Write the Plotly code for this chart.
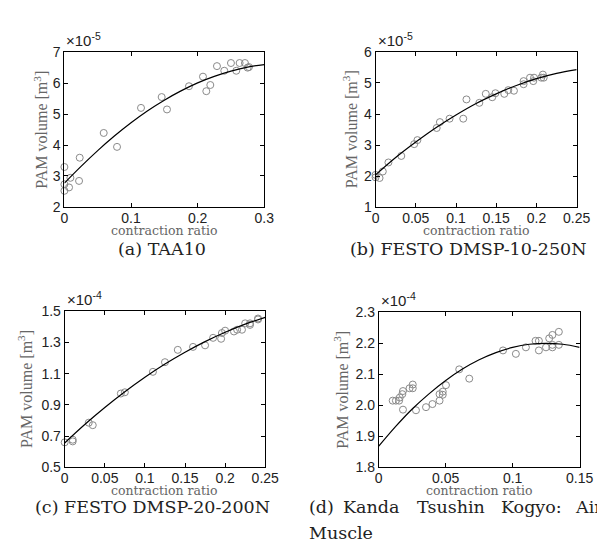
import plotly.graph_objects as go

W, H = 605, 543

# ---------------- data (mantissas; exponent shown in corner label) -------------
# (a) TAA10  (x1e-5 m^3)
a_x = [0, 0, 0, 0.007, 0.009, 0.022, 0.023, 0.059, 0.079, 0.115, 0.146, 0.154,
       0.187, 0.208, 0.213, 0.219, 0.229, 0.240, 0.250, 0.258, 0.263, 0.271, 0.275, 0.277]
a_y = [3.29, 2.73, 2.52, 2.63, 2.94, 2.84, 3.59, 4.39, 3.94, 5.20, 5.55, 5.15,
       5.90, 6.21, 5.74, 5.94, 6.55, 6.40, 6.65, 6.40, 6.65, 6.65, 6.50, 6.52]
a_fx = [0, 0.025, 0.05, 0.075, 0.1, 0.125, 0.15, 0.175, 0.2, 0.225, 0.25, 0.275, 0.3]
a_fy = [2.77, 3.31, 3.82, 4.29, 4.72, 5.11, 5.45, 5.75, 6.01, 6.22, 6.39, 6.52, 6.60]

# (b) FESTO DMSP-10-250N  (x1e-5 m^3)
b_x = [0, 0, 0.005, 0.009, 0.016, 0.032, 0.048, 0.052, 0.076, 0.080, 0.092, 0.109,
       0.113, 0.129, 0.137, 0.145, 0.149, 0.160, 0.165, 0.172, 0.184, 0.184, 0.192,
       0.196, 0.197, 0.206, 0.208, 0.209]
b_y = [2.04, 1.96, 1.94, 2.15, 2.44, 2.65, 3.03, 3.16, 3.55, 3.74, 3.85, 3.85,
       4.47, 4.36, 4.65, 4.54, 4.67, 4.65, 4.77, 4.75, 4.96, 5.06, 5.17,
       5.06, 5.17, 5.17, 5.27, 5.17]
b_fx = [0, 0.025, 0.05, 0.075, 0.1, 0.125, 0.15, 0.175, 0.2, 0.225, 0.25]
b_fy = [2.04, 2.60, 3.10, 3.56, 3.97, 4.34, 4.65, 4.92, 5.14, 5.31, 5.43]

# (c) FESTO DMSP-20-200N  (x1e-4 m^3)
c_x = [0, 0.010, 0.010, 0.030, 0.035, 0.070, 0.075, 0.110, 0.125, 0.141, 0.160,
       0.175, 0.185, 0.195, 0.196, 0.200, 0.211, 0.215, 0.221, 0.225, 0.231, 0.231,
       0.241, 0.241]
c_y = [0.660, 0.677, 0.666, 0.786, 0.770, 0.973, 0.981, 1.112, 1.174, 1.253, 1.272,
       1.282, 1.330, 1.324, 1.361, 1.376, 1.371, 1.382, 1.382, 1.423, 1.423, 1.413,
       1.454, 1.448]
c_fx = [0, 0.025, 0.05, 0.075, 0.1, 0.125, 0.15, 0.175, 0.2, 0.225, 0.25]
c_fy = [0.656, 0.774, 0.883, 0.984, 1.077, 1.162, 1.238, 1.306, 1.366, 1.418, 1.461]

# (d) Kanda Tsushin Kogyo: Air Muscle  (x1e-4 m^3)
d_x = [0.0104, 0.0128, 0.0152, 0.0157, 0.0176, 0.0181, 0.0181, 0.0230, 0.0254,
       0.0254, 0.0278, 0.0353, 0.0401, 0.0454, 0.0454, 0.0478, 0.0478, 0.0502,
       0.0601, 0.0676, 0.0928, 0.1024, 0.1099, 0.1171, 0.1196, 0.1196, 0.1249,
       0.1273, 0.1297, 0.1297, 0.1297, 0.1345, 0.1345]
d_y = [2.015, 2.015, 2.015, 2.025, 2.036, 2.046, 1.986, 2.055, 2.055, 2.067, 1.984,
       1.994, 2.004, 2.015, 2.036, 2.044, 2.034, 2.065, 2.116, 2.086, 2.177, 2.166,
       2.187, 2.208, 2.208, 2.177, 2.187, 2.216, 2.227, 2.195, 2.187, 2.237, 2.195]
d_fx = [0, 0.0125, 0.025, 0.0375, 0.05, 0.0625, 0.075, 0.0875, 0.1, 0.1125, 0.125, 0.1375, 0.15]
d_fy = [1.868, 1.931, 1.988, 2.037, 2.080, 2.117, 2.147, 2.170, 2.187, 2.197, 2.200, 2.197, 2.187]

# tick labels
a_xt = [0, 0.1, 0.2, 0.3];            a_xl = ["0", "0.1", "0.2", "0.3"]
a_yt = [2, 3, 4, 5, 6, 7];            a_yl = ["2", "3", "4", "5", "6", "7"]
b_xt = [0, 0.05, 0.1, 0.15, 0.2, 0.25]; b_xl = ["0", "0.05", "0.1", "0.15", "0.2", "0.25"]
b_yt = [1, 2, 3, 4, 5, 6];            b_yl = ["1", "2", "3", "4", "5", "6"]
c_xt = b_xt;                          c_xl = b_xl
c_yt = [0.5, 0.7, 0.9, 1.1, 1.3, 1.5]; c_yl = ["0.5", "0.7", "0.9", "1.1", "1.3", "1.5"]
d_xt = [0, 0.05, 0.1, 0.15];          d_xl = ["0", "0.05", "0.1", "0.15"]
d_yt = [1.8, 1.9, 2.0, 2.1, 2.2, 2.3]; d_yl = ["1.8", "1.9", "2.0", "2.1", "2.2", "2.3"]

exps = ["-5", "-5", "-4", "-4"]
captions = ["(a) TAA10", "(b) FESTO DMSP-10-250N", "(c) FESTO DMSP-20-200N"]
d_caption_words = ["(d)", "Kanda", "Tsushin", "Kogyo:", "Air"]
d_caption_line2 = "Muscle"
ytitle = "PAM volume [m<sup>3</sup>]"
xtitle = "contraction ratio"

# ---------------- layout helpers ----------------
def px(x):
    return x / W

def py(y):
    return 1 - y / H

# plot boxes in pixels: (left, right, top, bottom)
boxes = [(54, 260, 37.3, 196.7), (374.7, 582, 37, 197),
         (54.3, 261, 304.3, 465), (378, 585, 305.3, 465)]
xranges = [[0, 0.3], [0, 0.25], [0, 0.25], [0, 0.15]]
yranges = [[2, 7], [1, 6], [0.5, 1.5], [1.8, 2.3]]
xticks = [(a_xt, a_xl), (b_xt, b_xl), (c_xt, c_xl), (d_xt, d_xl)]
yticks = [(a_yt, a_yl), (b_yt, b_yl), (c_yt, c_yl), (d_yt, d_yl)]
scatters = [(a_x, a_y), (b_x, b_y), (c_x, c_y), (d_x, d_y)]
fits = [(a_fx, a_fy), (b_fx, b_fy), (c_fx, c_fy), (d_fx, d_fy)]
ytitle_x = [29, 348, 14, 339]
xtitle_dy = [24, 24, 24, 24]

SANS = "Liberation Sans, Arial, sans-serif"
SERIF = "Liberation Serif, Times New Roman, serif"
WSERIF = "DejaVu Serif, serif"

fig = go.Figure()
layout = dict(width=W, height=H, margin=dict(l=0, r=0, t=0, b=0),
              paper_bgcolor="white", plot_bgcolor="white", showlegend=False)
annotations = []

for i in range(4):
    n = "" if i == 0 else str(i + 1)
    L, R, T, B = boxes[i]
    xa = dict(domain=[px(L), px(R)], range=xranges[i], showgrid=False, zeroline=False,
              showline=True, linecolor="black", linewidth=1, mirror="ticks",
              ticks="inside", ticklen=4, tickcolor="black", ticklabelstandoff=-2,
              tickvals=xticks[i][0], ticktext=xticks[i][1],
              tickfont=dict(family=SANS, size=14, color="#222"),
              anchor="y" + n, fixedrange=True)
    ya = dict(domain=[py(B), py(T)], range=yranges[i], showgrid=False, zeroline=False,
              showline=True, linecolor="black", linewidth=1, mirror="ticks",
              ticks="inside", ticklen=4, tickcolor="black",
              tickvals=yticks[i][0], ticktext=yticks[i][1],
              tickfont=dict(family=SANS, size=14, color="#222"),
              anchor="x" + n, fixedrange=True)
    layout["xaxis" + n] = xa
    layout["yaxis" + n] = ya

    sx, sy = scatters[i]
    fig.add_trace(go.Scatter(x=sx, y=sy, mode="markers", xaxis="x" + n, yaxis="y" + n,
                             marker=dict(symbol="circle-open", size=7, color="#8a8a8a",
                                         line=dict(width=1, color="#8a8a8a")),
                             cliponaxis=False))
    fx, fy = fits[i]
    fig.add_trace(go.Scatter(x=fx, y=fy, mode="lines", xaxis="x" + n, yaxis="y" + n,
                             line=dict(color="black", width=1.2, shape="spline")))

    # exponent label
    annotations.append(dict(x=px(L), y=py(T - 1), xref="paper", yref="paper",
                            xanchor="left", yanchor="bottom", showarrow=False,
                            text="×10<sup>" + exps[i] + "</sup>",
                            font=dict(family=SANS, size=15, color="#222")))
    # y title
    annotations.append(dict(x=px(ytitle_x[i]), y=py((T + B) / 2), xref="paper", yref="paper",
                            xanchor="center", yanchor="middle", showarrow=False,
                            textangle=-90, text=ytitle,
                            font=dict(family=SERIF, size=16, color="#666")))
    # x title
    annotations.append(dict(x=px((L + R) / 2), y=py(B + xtitle_dy[i]), xref="paper", yref="paper",
                            xanchor="center", yanchor="middle", showarrow=False,
                            text=xtitle,
                            font=dict(family=WSERIF, size=12.5, color="#666")))

# captions
CAP = 17.5
cap_pos = [(155, 240), (470, 240), (145, 506)]
for txt, (cx, cy) in zip(captions, cap_pos):
    annotations.append(dict(x=px(cx), y=py(cy), xref="paper", yref="paper",
                            xanchor="center", yanchor="middle", showarrow=False,
                            text=txt, font=dict(family=WSERIF, size=CAP, color="#222")))
word_x = [304, 339, 415, 502, 578]
for wd, wx in zip(d_caption_words, word_x):
    annotations.append(dict(x=px(wx), y=py(506), xref="paper", yref="paper",
                            xanchor="left", yanchor="middle", showarrow=False,
                            text=wd, font=dict(family=WSERIF, size=CAP, color="#222")))
annotations.append(dict(x=px(304), y=py(533), xref="paper", yref="paper",
                        xanchor="left", yanchor="middle", showarrow=False,
                        text=d_caption_line2, font=dict(family=WSERIF, size=CAP, color="#222")))

layout["annotations"] = annotations
fig.update_layout(**layout)
fig.write_html("out.html")
